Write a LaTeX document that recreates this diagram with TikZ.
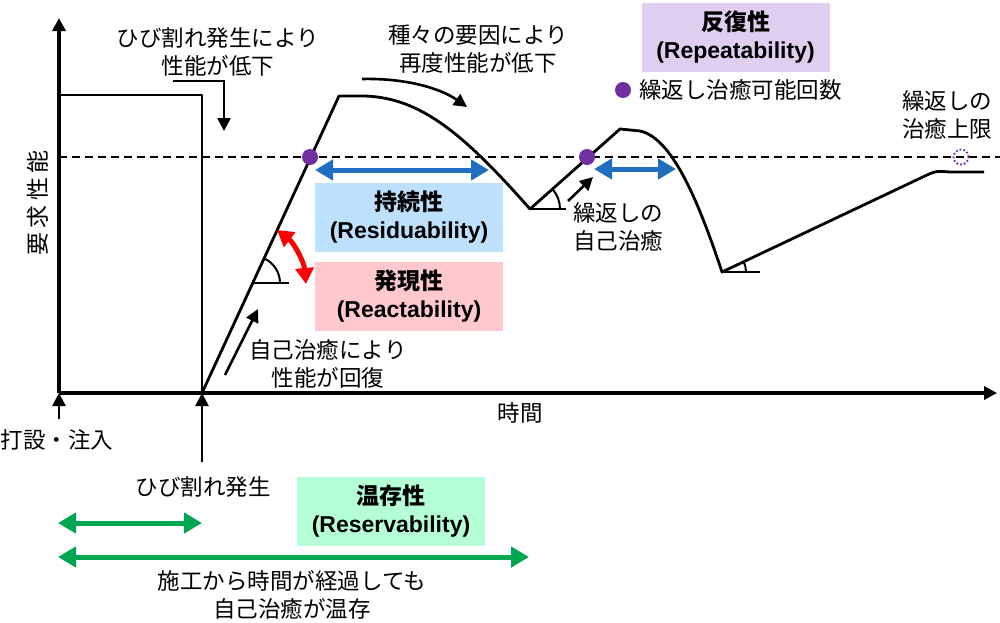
\documentclass[tikz,border=0pt]{standalone}
\usepackage{fontspec}
\setmainfont{Liberation Sans}
\newfontfamily\jp{Noto Sans CJK JP}
\usetikzlibrary{arrows.meta,calc}
\definecolor{blueA}{RGB}{31,110,192}
\definecolor{greenA}{RGB}{0,166,80}
\definecolor{purpA}{RGB}{112,48,160}
\definecolor{boxBlue}{RGB}{189,224,253}
\definecolor{boxPink}{RGB}{255,200,204}
\definecolor{boxLav}{RGB}{224,206,240}
\definecolor{boxMint}{RGB}{180,255,214}
\begin{document}
\begin{tikzpicture}[x=1pt,y=-1pt,
  jt/.style={font=\jp\fontsize{22.5}{28}\selectfont, align=center, inner sep=0pt},
  boxs/.style={minimum width=188pt, minimum height=69pt, inner sep=0pt, align=center, font=\fontsize{23}{28}\selectfont\bfseries},
  curve/.style={line width=2.8pt, line join=round},
  axisline/.style={line width=3.4pt, -{Triangle[length=13pt,width=13pt]}},
  tiparrow/.style={line width=2.6pt, -{Triangle[length=13pt,width=13pt]}},
  anglemark/.style={line width=2pt},
  dbl/.style={line width=5pt, {Triangle[length=18pt,width=20pt]}-{Triangle[length=18pt,width=20pt]}},
  dot/.style={circle, fill=purpA, inner sep=0pt, minimum size=16pt}]
\useasboundingbox (0,0) rectangle (1000,622);

% coordinates
\coordinate (o) at (59,393);
\coordinate (ytop) at (59,18);
\coordinate (xend) at (997,393);
\coordinate (p0) at (59,95);
\coordinate (p1) at (202,95);
\coordinate (cb) at (202,393);
\coordinate (peak1) at (339,96);
\coordinate (peak1b) at (365,96);
\coordinate (v1) at (530,209);
\coordinate (peak2) at (620,129);
\coordinate (peak2b) at (640,131);
\coordinate (v2) at (722,272);
\coordinate (r1) at (927,175);
\coordinate (r2) at (950,172);
\coordinate (r3) at (984,172);
\coordinate (dl) at (59,157);
\coordinate (dr) at (1000,157);

% boxes
\node[boxs, fill=boxBlue] (bres) at (409,217.5) {{\jp 持続性}\\(Residuability)};
\node[boxs, fill=boxPink] (brea) at (409,296.5) {{\jp 発現性}\\(Reactability)};
\node[boxs, fill=boxLav] (brep) at (735.5,37.5) {{\jp 反復性}\\(Repeatability)};
\node[boxs, fill=boxMint] (bresv) at (391,511) {{\jp 温存性}\\(Reservability)};

% dashed required level
\draw[line width=2.8pt, dash pattern=on 8pt off 5pt] (dl) -- (dr);

% axes
\draw[axisline] (o) -- (ytop);
\draw[axisline] (o) -- (xend);

% performance curve
\draw[curve] (p0) -- (p1) -- (cb);
\draw[curve] (cb) -- (peak1) -- (peak1b) .. controls (420,98) and (462,132) .. (v1)
  -- (peak2) -- (peak2b) .. controls (672,138) and (698,200) .. (v2)
  -- (r1) .. controls (936,171) .. (r2) -- (r3);

% angle marks
\coordinate (a1) at (253,283);
\draw[anglemark] (a1) -- (289,283);
\draw[anglemark] ($(a1)+(27,0)$) arc[start angle=0, end angle=-65.5, radius=27];
\draw[anglemark] (v1) -- (566,209);
\draw[anglemark] ($(v1)+(30,0)$) arc[start angle=0, end angle=-42, radius=30];
\draw[anglemark] (v2) -- (760,272);
\draw[anglemark] ($(v2)+(24,0)$) arc[start angle=0, end angle=-25, radius=24];

% dots
\node[dot] (d1) at (310,157) {};
\node[dot] (d2) at (587,157) {};
\node[circle, draw=purpA, dotted, line width=1.8pt, inner sep=0pt, minimum size=15pt] (d3) at (961,157) {};
\node[dot] (d4) at (623,90) {};

% bottom event arrows
\coordinate (e1) at (59,419);
\coordinate (e2) at (202,462);
\draw[axisline, line width=2.6pt] (e1) -- (o);
\draw[axisline, line width=2.6pt] (e2) -- (cb);

% text
\node[jt] (t1) at (218,52) {ひび割れ発生により\\性能が低下};
\node[jt] (t2) at (478,49) {種々の要因により\\再度性能が低下};
\node[jt] (t3) at (328,364) {自己治癒により\\性能が回復};
\node[jt] (t4) at (618,227) {繰返しの\\自己治癒};
\node[jt] (t5) at (947,115) {繰返しの\\治癒上限};
\node[jt, anchor=west] (t6) at (639,90) {繰返し治癒可能回数};
\node[jt] (t7) at (57,440) {打設・注入};
\node[jt] (t8) at (520,413) {時間};
\node[jt] (t9) at (203,487) {ひび割れ発生};
\node[jt] (t10) at (292,595) {施工から時間が経過しても\\自己治癒が温存};
\node[jt, rotate=90, font=\jp\fontsize{23}{26}\selectfont\addfontfeature{LetterSpace=18}] (ylab) at (38,203) {要求性能};

% text arrows
\coordinate (ta1) at (173,81);
\coordinate (ta2) at (224,81);
\coordinate (ta3) at (224,131);
\draw[tiparrow, line join=miter] (ta1) -- (ta2) -- (ta3);
\coordinate (tb1) at (362,79);
\coordinate (tb2) at (467,107);
\draw[tiparrow] (tb1) .. controls (405,78) and (440,88) .. (tb2);
\coordinate (tc1) at (225,375);
\coordinate (tc2) at (258,309);
\draw[tiparrow] (tc1) -- (tc2);
\coordinate (td1) at (568,201);
\coordinate (td2) at (593,177);
\draw[tiparrow] (td1) -- (td2);

% thick double arrows
\coordinate (bl1) at (315,170);
\coordinate (br1) at (489,170);
\draw[dbl, blueA] (bl1) -- (br1);
\coordinate (bl2) at (594,169);
\coordinate (br2) at (676,169);
\draw[dbl, blueA] (bl2) -- (br2);
\coordinate (rs) at (277,230);
\coordinate (re) at (306,284);
\draw[line width=5pt, red, {Triangle[length=16pt,width=18pt]}-{Triangle[length=16pt,width=18pt]}] (rs) .. controls (294,243) and (304,262) .. (re);
\coordinate (g1) at (58,523);
\coordinate (g2) at (202,523);
\draw[dbl, greenA] (g1) -- (g2);
\coordinate (g3) at (58,557);
\coordinate (g4) at (529,557);
\draw[dbl, greenA] (g3) -- (g4);
\end{tikzpicture}
\end{document}
